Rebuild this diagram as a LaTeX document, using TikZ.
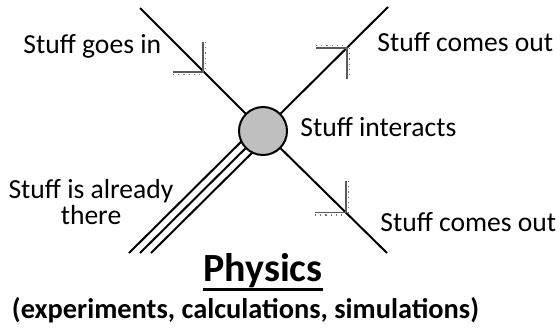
\documentclass[tikz,border=0pt]{standalone}
\usepackage{fontspec}
\setmainfont{Carlito}
\begin{document}
\begin{tikzpicture}[x=0.5pt,y=-0.5pt,
  ln/.style={line width=1pt,black},
  tick/.style={line width=0.8pt,black!65},
  tickdot/.style={line width=0.6pt,black!55,dotted},
  lab/.style={font=\fontsize{13.8}{12.7}\selectfont,inner sep=0pt,text=black},
  blob/.style={circle,draw=black,line width=1pt,fill=black!25,inner sep=0pt,minimum size=24pt}]
\useasboundingbox (0,0) rectangle (560,328);
% free ends
\coordinate (ctr) at (263,131);
\coordinate (tl) at (140,8);
\coordinate (tr) at (388,7);
\coordinate (br) at (387,253);
\coordinate (t1s) at (257.5,125.5);
\coordinate (t1e) at (129,253);
\coordinate (t2e) at (140,253);
\coordinate (t3s) at (268.5,136.5);
\coordinate (t3e) at (151,253);
% outer lines of the triple line (behind the circle)
\draw[ln] (t1s) -- (t1e);
\draw[ln] (t3s) -- (t3e);
% interaction circle
\node[blob] (c) at (ctr) {};
% connectors
\draw[ln] (tl) -- (c);
\draw[ln] (c) -- (tr);
\draw[ln] (c) -- (br);
\draw[ln] (c) -- (t2e);
% half-arrow marks
\draw[tick] (173,72) -- (203,72) -- (203,42);
\draw[tickdot] (173,74.5) -- (203,74.5);
\draw[tickdot] (205.5,42) -- (205.5,72);
\draw[tick] (316,48) -- (347,48) -- (347,79);
\draw[tickdot] (316,45.5) -- (347,45.5);
\draw[tickdot] (349.5,48) -- (349.5,79);
\draw[tick] (315,212.5) -- (346,212.5) -- (346,181);
\draw[tickdot] (315,215) -- (346,215);
\draw[tickdot] (348.5,181) -- (348.5,212.5);
% labels
\node[lab,anchor=base west] (in) at (23,53) {Stuff goes in};
\node[lab,anchor=base west] (out1) at (377,51.7) {Stuff comes out};
\node[lab,anchor=base west] (int) at (300,136.7) {Stuff interacts};
\node[lab,anchor=base west] (out2) at (380,231.7) {Stuff comes out};
\node[lab,align=center] (there) at (91,202) {Stuff is already\\there};
\node[font=\bfseries\fontsize{20}{22}\selectfont,anchor=base,inner sep=0pt] (phys) at (263,281) {Physics};
\draw[line width=1.2pt] ([yshift=-4.15pt]phys.base west) -- ([yshift=-4.15pt]phys.base east);
\node[font=\bfseries\fontsize{14.2}{16}\selectfont,anchor=base,inner sep=0pt] (sub) at (245.5,318) {(experiments, calculations, simulations)};
\end{tikzpicture}
\end{document}
